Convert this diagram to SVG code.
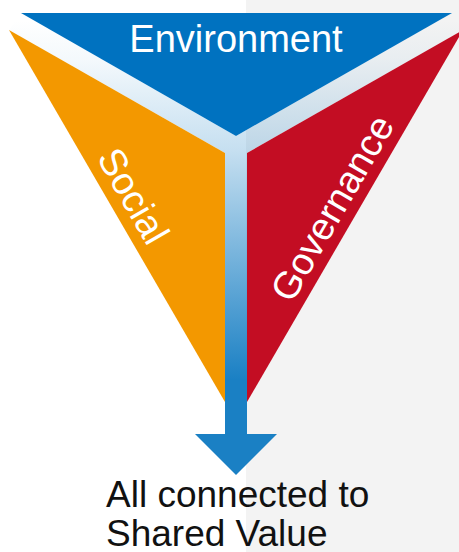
<svg xmlns="http://www.w3.org/2000/svg" width="459" height="552" viewBox="0 0 459 552">
  <style>
    .lbl { font-family: "Liberation Sans", Arial, sans-serif; font-size: 38px; fill: #ffffff; }
    .cap { font-family: "Liberation Sans", Arial, sans-serif; font-size: 37px; fill: #111111; }
  </style>
  <defs>
    <linearGradient id="bandGrad" gradientUnits="userSpaceOnUse" x1="0" y1="20" x2="0" y2="400">
      <stop offset="0" stop-color="#1a80c4" stop-opacity="0"/>
      <stop offset="0.105" stop-color="#1a80c4" stop-opacity="0.05"/>
      <stop offset="0.342" stop-color="#1a80c4" stop-opacity="0.25"/>
      <stop offset="0.947" stop-color="#1a80c4" stop-opacity="1"/>
      <stop offset="1" stop-color="#1a80c4" stop-opacity="1"/>
    </linearGradient>
  </defs>
  <rect x="0" y="0" width="459" height="552" fill="#ffffff"/>
  <rect id="background-panel" x="246" y="0" width="213" height="552" fill="#f3f3f3"/>

  <g id="connectors">
    <polygon points="21,13 236,136 452,13 463,30 247,153 247,436 225,436 225,153 9,30" fill="url(#bandGrad)"/>
    <rect x="225" y="398" width="22" height="38" fill="#1a80c4"/>
    <polygon points="195,434 277,434 236,475" fill="#1a80c4"/>
  </g>

  <g id="environment">
    <polygon points="21,13 452,13 236,136" fill="#0072c0"/>
    <text class="lbl" x="236" y="52" text-anchor="middle">Environment</text>
  </g>

  <g id="social">
    <polygon points="9,30 225,153 225,402" fill="#f39800"/>
    <text class="lbl" x="122" y="202.5" text-anchor="middle" transform="rotate(60 122 202.5)">Social</text>
  </g>

  <g id="governance">
    <polygon points="247,153 463,30 247,402" fill="#c30d23"/>
    <text class="lbl" x="343.5" y="214.5" text-anchor="middle" transform="rotate(-60 343.5 214.5)">Governance</text>
  </g>

  <g id="shared-value">
    <text class="cap" x="106" y="506.5">All connected to</text>
    <text class="cap" x="106" y="545.5">Shared Value</text>
  </g>
</svg>
